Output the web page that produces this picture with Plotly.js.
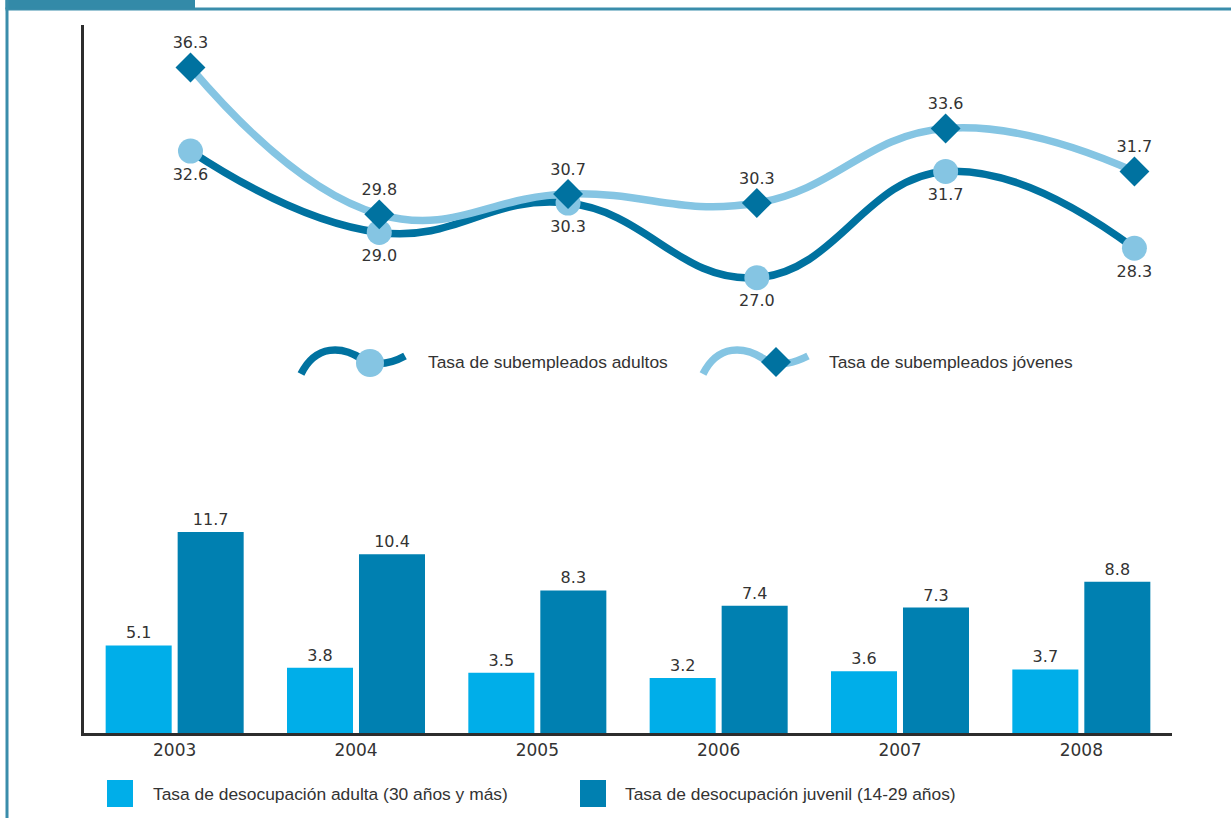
<!DOCTYPE html>
<html>
<head>
<meta charset="utf-8">
<script src="https://cdn.plot.ly/plotly-3.0.1.min.js"></script>
<style>html,body{margin:0;padding:0;background:#fff;}#chart{width:1231px;height:818px;}</style>
</head>
<body>
<div id="chart"></div>
<script>
// ---- data ----
const years = ['2003', '2004', '2005', '2006', '2007', '2008'];
const desocAdulta = [5.1, 3.8, 3.5, 3.2, 3.6, 3.7];
const desocJuvenil = [11.7, 10.4, 8.3, 7.4, 7.3, 8.8];
const subAdultos = [32.6, 29.0, 30.3, 27.0, 31.7, 28.3];
const subJovenes = [36.3, 29.8, 30.7, 30.3, 33.6, 31.7];
const nameDesocAdulta = 'Tasa de desocupación adulta (30 años y más)';
const nameDesocJuvenil = 'Tasa de desocupación juvenil (14-29 años)';
const nameSubAdultos = 'Tasa de subempleados adultos';
const nameSubJovenes = 'Tasa de subempleados jóvenes';

// ---- style ----
const cLightBar = '#00aee9';
const cDarkBar = '#0080b1';
const cDarkLine = '#0072a0';
const cLightLine = '#85c5e3';
const cText = '#333333';
const cFrame = '#3a8dab';
const numFont = {family: 'DejaVu Sans', size: 16, color: cText};
const txtFont = {family: 'Liberation Sans', size: 17.4, color: cText};

const L = 84, R = 1172, T = 25, B = 733;
const W = R - L, H = B - T;
const px = x => (x - L) / W;
const py = y => (B - y) / H;
const P = (x, y) => px(x) + ',' + py(y);

const fmt = a => a.map(v => v.toFixed(1));

const traces = [
  {type: 'bar', x: years, y: desocAdulta, name: nameDesocAdulta, marker: {color: cLightBar},
   text: fmt(desocAdulta), textposition: 'outside', textfont: numFont, cliponaxis: false, hoverinfo: 'none'},
  {type: 'bar', x: years, y: desocJuvenil, name: nameDesocJuvenil, marker: {color: cDarkBar},
   text: fmt(desocJuvenil), textposition: 'outside', textfont: numFont, cliponaxis: false, hoverinfo: 'none'},
  {type: 'scatter', mode: 'lines+markers+text', x: years, y: subAdultos, name: nameSubAdultos,
   xaxis: 'x2', yaxis: 'y2',
   line: {color: cDarkLine, width: 7.5, shape: 'spline', smoothing: 1.25},
   marker: {symbol: 'circle', size: 25, color: cLightLine},
   text: fmt(subAdultos), textposition: 'bottom center', textfont: numFont, cliponaxis: false, hoverinfo: 'none'},
  {type: 'scatter', mode: 'lines+markers+text', x: years, y: subJovenes, name: nameSubJovenes,
   xaxis: 'x2', yaxis: 'y2',
   line: {color: cLightLine, width: 7.5, shape: 'spline', smoothing: 1.25},
   marker: {symbol: 'diamond', size: 23, color: cDarkLine},
   text: fmt(subJovenes), textposition: 'top center', textfont: numFont, cliponaxis: false, hoverinfo: 'none'}
];

const shapes = [
  // frame
  {type: 'rect', xref: 'paper', yref: 'paper', x0: px(5.5), x1: px(1231), y0: py(7.5), y1: py(10.5), fillcolor: cFrame, line: {width: 0}, layer: 'below'},
  {type: 'rect', xref: 'paper', yref: 'paper', x0: px(5.5), x1: px(195), y0: py(0), y1: py(9), fillcolor: '#338aa8', line: {width: 0}, layer: 'below'},
  {type: 'rect', xref: 'paper', yref: 'paper', x0: px(5.5), x1: px(8.5), y0: py(0), y1: py(818), fillcolor: cFrame, line: {width: 0}, layer: 'below'},
  // legend glyphs top
  {type: 'path', xref: 'paper', yref: 'paper',
   path: 'M' + P(301, 374) + ' C' + P(316, 344) + ' ' + P(342, 346) + ' ' + P(362, 359) + ' C' + P(378, 368) + ' ' + P(394, 362) + ' ' + P(405, 356),
   line: {color: cDarkLine, width: 7.5}},
  {type: 'circle', xref: 'paper', yref: 'paper', x0: px(356), x1: px(384), y0: py(349), y1: py(377), fillcolor: cLightLine, line: {width: 0}},
  {type: 'path', xref: 'paper', yref: 'paper',
   path: 'M' + P(703, 374) + ' C' + P(718, 344) + ' ' + P(744, 346) + ' ' + P(764, 359) + ' C' + P(780, 368) + ' ' + P(796, 362) + ' ' + P(808, 356),
   line: {color: cLightLine, width: 7.5}},
  {type: 'path', xref: 'paper', yref: 'paper',
   path: 'M' + P(776, 347) + ' L' + P(791, 362) + ' L' + P(776, 377) + ' L' + P(761, 362) + ' Z',
   fillcolor: cDarkLine, line: {width: 0}},
  // legend glyphs bottom
  {type: 'rect', xref: 'paper', yref: 'paper', x0: px(107), x1: px(133), y0: py(780), y1: py(807), fillcolor: cLightBar, line: {width: 0}},
  {type: 'rect', xref: 'paper', yref: 'paper', x0: px(580), x1: px(606), y0: py(780), y1: py(807), fillcolor: cDarkBar, line: {width: 0}}
];

const ann = (x, y, t) => ({xref: 'paper', yref: 'paper', x: px(x), y: py(y), text: t, showarrow: false,
  xanchor: 'left', yanchor: 'middle', font: txtFont});
const annotations = [
  ann(426, 362, nameSubAdultos),
  ann(827, 362, nameSubJovenes),
  ann(151, 794, nameDesocAdulta),
  ann(623, 794, nameDesocJuvenil)
];

const layout = {
  width: 1231, height: 818,
  margin: {l: L, r: 1231 - R, t: T, b: 818 - B, pad: 0},
  paper_bgcolor: '#ffffff', plot_bgcolor: '#ffffff',
  showlegend: false,
  barmode: 'group', bargap: 0.206, bargroupgap: 0.083,
  xaxis: {type: 'category', range: [-0.5, 5.5], showgrid: false, zeroline: false,
    showline: true, linecolor: '#2d2d2d', linewidth: 3, ticks: '', tickfont: {family: 'DejaVu Sans', size: 17, color: cText},
    ticklen: 0, automargin: false, fixedrange: true},
  yaxis: {range: [0, H / 17.18], showgrid: false, zeroline: false, showticklabels: false,
    showline: true, linecolor: '#2d2d2d', linewidth: 3, ticks: '', automargin: false},
  xaxis2: {type: 'category', overlaying: 'x', range: [-0.564, 5.199], visible: false},
  yaxis2: {overlaying: 'y', range: [6.85, 38.18], visible: false},
  shapes: shapes,
  annotations: annotations
};

Plotly.newPlot('chart', traces, layout, {displayModeBar: false, staticPlot: true});
</script>
</body>
</html>
